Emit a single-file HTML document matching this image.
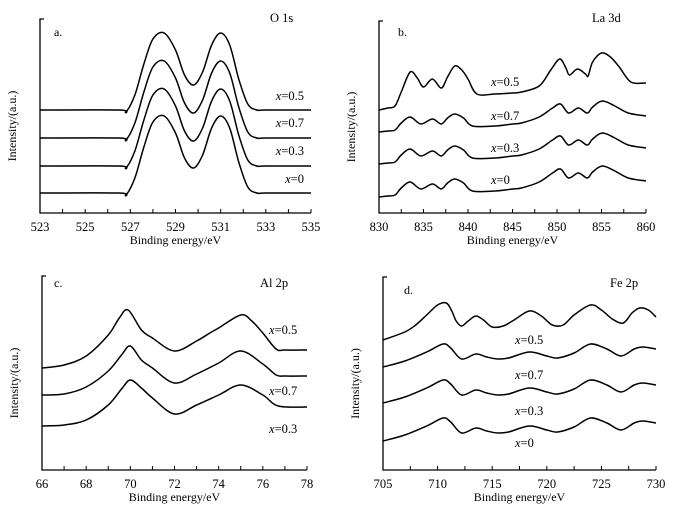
<!DOCTYPE html>
<html><head><meta charset="utf-8">
<style>
html,body{margin:0;padding:0;background:#fff;}
svg{display:block;font-family:"Liberation Serif",serif;}
text{fill:#000;}
</style></head>
<body>
<svg id="fig" width="682" height="516" viewBox="0 0 682 516"></svg>
<script>
// ---- Panel a: O 1s ----
const aSeries = ["x=0.5","x=0.7","x=0.3","x=0"];
const aEnergy = [523,526.5,526.8,527.2,527.6,528,528.5,529,529.4,529.8,530.2,530.6,531,531.4,531.8,532.2,532.6,533,535];
const aShape  = [0,0,-2,15,46,71,77,60,35,25,38,65,77,65,31,6,0,0,0];
const aBase   = [103,75,47,20];
const aTicks  = [523,525,527,529,531,533,535];
// ---- Panel b: La 3d ----
const bSeries = ["x=0.5","x=0.7","x=0.3","x=0"];
const bEnergy05 = [830,831,831.8,832.5,833.5,834.3,835,836,837,837.7,838.5,839.3,840,841,843,845,846,848,849.3,850.3,851,851.4,852.3,853.2,853.5,854,855,856,857,858.3,860];
const bValues05 = [103,105,107,121,141,135,126,134,125,136,147,143,134,119,119,120,121,127,143,154,145,138,144,139,137,151,160,156,146,131,130];
const bEnergy = [830,831,831.8,832.5,833.5,834.7,836,837,837.7,838.5,839.5,840.5,843,845,846,848,849.5,850.4,851.3,852.4,853.4,854,855.1,856.5,858,860];
const bShape  = [0,1,2,9,15,8,13,8,14,18,14,6,6,8,9,15,24,28,19,24,19,25,31,26,19,16];
const bBase   = [81,49,16];
const bTicks  = [830,835,840,845,850,855,860];
// ---- Panel c: Al 2p ----
const cSeries = ["x=0.5","x=0.7","x=0.3"];
const cEnergy05 = [66,67,68,69,69.5,69.9,70.5,71,72,73,73.6,74,75,75.5,76,76.6,77,78];
const cValues05 = [102,105,114,135,152,160,140,132,119,129,137,142,155,149,137,121,120,120];
const cEnergy07 = [66,67,68,69,69.6,70,70.5,71,72,73,74,75,76,76.6,77,78];
const cValues07 = [75,76,83,99,115,124,110,102,87,96,107,119,106,95,94,94];
const cEnergy03 = [66,67,68,69,69.6,70,70.5,71,72,73,74,75,76,76.7,78];
const cValues03 = [44,45,50,65,81,90,82,72,56,65,75,85,75,64,63];
const cTicks  = [66,68,70,72,74,76,78];
// ---- Panel d: Fe 2p ----
const dSeries = ["x=0.5","x=0.7","x=0.3","x=0"];
const dEnergy05 = [705,707,708,709,710,710.8,711.3,711.7,712.2,712.8,713.5,714.2,715,716,717,718.4,719.5,720.5,721.5,722.5,724,725,726,727,727.8,728.5,729.3,730];
const dValues05 = [130,138,145,155,165,167,159,149,144,149,154,150,143,144,150,159,154,145,145,155,165,160,151,147,157,162,160,153];
const dEnergy = [705,707,709,710.5,711.2,712.2,713.5,714.5,715.5,716.5,718.4,720,721,722.5,724,725.5,726.8,728,728.8,730];
const dShape  = [0,6,15,23,19,8,13,10,8,9,15,11,9,14,23,18,11,18,20,18];
const dBase   = [103,67,29];
const dTicks  = [705,710,715,720,725,730];

const NS="http://www.w3.org/2000/svg";
const svg=document.getElementById('fig');
function el(tag,attrs,parent){const e=document.createElementNS(NS,tag);for(const k in attrs)e.setAttribute(k,attrs[k]);(parent||svg).appendChild(e);return e;}
function smooth(pts){
  let d="M"+pts[0][0].toFixed(2)+","+pts[0][1].toFixed(2);
  for(let i=0;i<pts.length-1;i++){
    const p0=pts[Math.max(0,i-1)],p1=pts[i],p2=pts[i+1],p3=pts[Math.min(pts.length-1,i+2)];
    const c1=[p1[0]+(p2[0]-p0[0])/6,p1[1]+(p2[1]-p0[1])/6];
    const c2=[p2[0]-(p3[0]-p1[0])/6,p2[1]-(p3[1]-p1[1])/6];
    d+="C"+c1[0].toFixed(2)+","+c1[1].toFixed(2)+" "+c2[0].toFixed(2)+","+c2[1].toFixed(2)+" "+p2[0].toFixed(2)+","+p2[1].toFixed(2);
  }
  return d;
}
function panel(cfg){
  const g=el('g',{});
  
  
  const xs=v=>cfg.x0+(v-cfg.e0)/(cfg.e1-cfg.e0)*(cfg.x1-cfg.x0);
  const ys=v=>cfg.bottom-v;
  const ax=el('path',{d:`M${cfg.x0+4},${cfg.top}H${cfg.x0}V${cfg.bottom}H${cfg.x1}`,fill:'none',stroke:'#000','stroke-width':1.3},g);
  
  
  for(let v=cfg.e0;v<=cfg.e1+1e-9;v+=cfg.minor){
    const t=el('line',{x1:xs(v),x2:xs(v),y1:cfg.bottom,y2:cfg.bottom-4,stroke:'#000','stroke-width':1},g);
    
    
  }
  cfg.ticks.forEach(v=>{
    const t=el('text',{x:xs(v),y:cfg.bottom+18,'text-anchor':'middle','font-size':12.5},g);
    t.textContent=v;
    
    
  });
  const xt=el('text',{x:(cfg.x0+cfg.x1)/2,y:cfg.bottom+31,'text-anchor':'middle','font-size':12},g);
  xt.textContent='Binding energy/eV';
  
  
  const yc=(cfg.top+cfg.bottom)/2+10;
  const yt=el('text',{x:cfg.x0-24,y:yc,'text-anchor':'middle','font-size':12,transform:`rotate(-90 ${cfg.x0-24} ${yc})`},g);
  yt.textContent='Intensity/(a.u.)';
  
  
  const pl=el('text',{x:cfg.letter[1],y:cfg.letter[2],'font-size':12},g);
  pl.textContent=cfg.letter[0];
  
  
  const ti=el('text',{x:cfg.title[1],y:cfg.title[2],'font-size':12.5},g);
  ti.textContent=cfg.title[0];
  
  
  cfg.series.forEach((s,i)=>{
    const pts=s.e.map((e,j)=>[xs(e),ys(s.v[j])]);
    const p=el('path',{d:smooth(pts),fill:'none',stroke:'#000','stroke-width':1.5},g);
    
    
    const t=el('text',{x:s.lx,y:s.ly,'font-size':12.5,'text-anchor':cfg.anchor},g);
    const it=el('tspan',{'font-style':'italic'},t);it.textContent='x';
    const rt=el('tspan',{},t);rt.textContent=s.label.slice(1);
    
    
  });
}
const aLY=[100,127,155,183];
panel({name:'panel-a-o1s',x0:40,x1:311,e0:523,e1:535,top:19,bottom:213,minor:1,ticks:aTicks,
  letter:['a.',54,36],title:['O 1s',270,22],anchor:'end',
  series:aSeries.map((l,i)=>({label:l,e:aEnergy,v:aShape.map(v=>v+aBase[i]),lx:304,ly:aLY[i]}))});
const bLY=[86,120,152,184];
panel({name:'panel-b-la3d',x0:379,x1:646,e0:830,e1:860,top:21,bottom:213,minor:2.5,ticks:bTicks,
  letter:['b.',398,36],title:['La 3d',592,22],anchor:'start',
  series:[{label:bSeries[0],e:bEnergy05,v:bValues05,lx:491,ly:bLY[0]}].concat(
    bSeries.slice(1).map((l,i)=>({label:l,e:bEnergy,v:bShape.map(v=>v+bBase[i]),lx:491,ly:bLY[i+1]})))});
panel({name:'panel-c-al2p',x0:42,x1:307,e0:66,e1:78,top:276,bottom:470,minor:1,ticks:cTicks,
  letter:['c.',54,287],title:['Al 2p',260,287],anchor:'start',
  series:[{label:cSeries[0],e:cEnergy05,v:cValues05,lx:269,ly:334},
          {label:cSeries[1],e:cEnergy07,v:cValues07,lx:269,ly:395},
          {label:cSeries[2],e:cEnergy03,v:cValues03,lx:269,ly:433}]});
const dLY=[344,379,415,447];
panel({name:'panel-d-fe2p',x0:383,x1:656,e0:705,e1:730,top:277,bottom:470,minor:2.5,ticks:dTicks,
  letter:['d.',404,294],title:['Fe 2p',610,287],anchor:'start',
  series:[{label:dSeries[0],e:dEnergy05,v:dValues05,lx:515,ly:dLY[0]}].concat(
    dSeries.slice(1).map((l,i)=>({label:l,e:dEnergy,v:dShape.map(v=>v+dBase[i]),lx:515,ly:dLY[i+1]})))});
</script>
</body></html>
